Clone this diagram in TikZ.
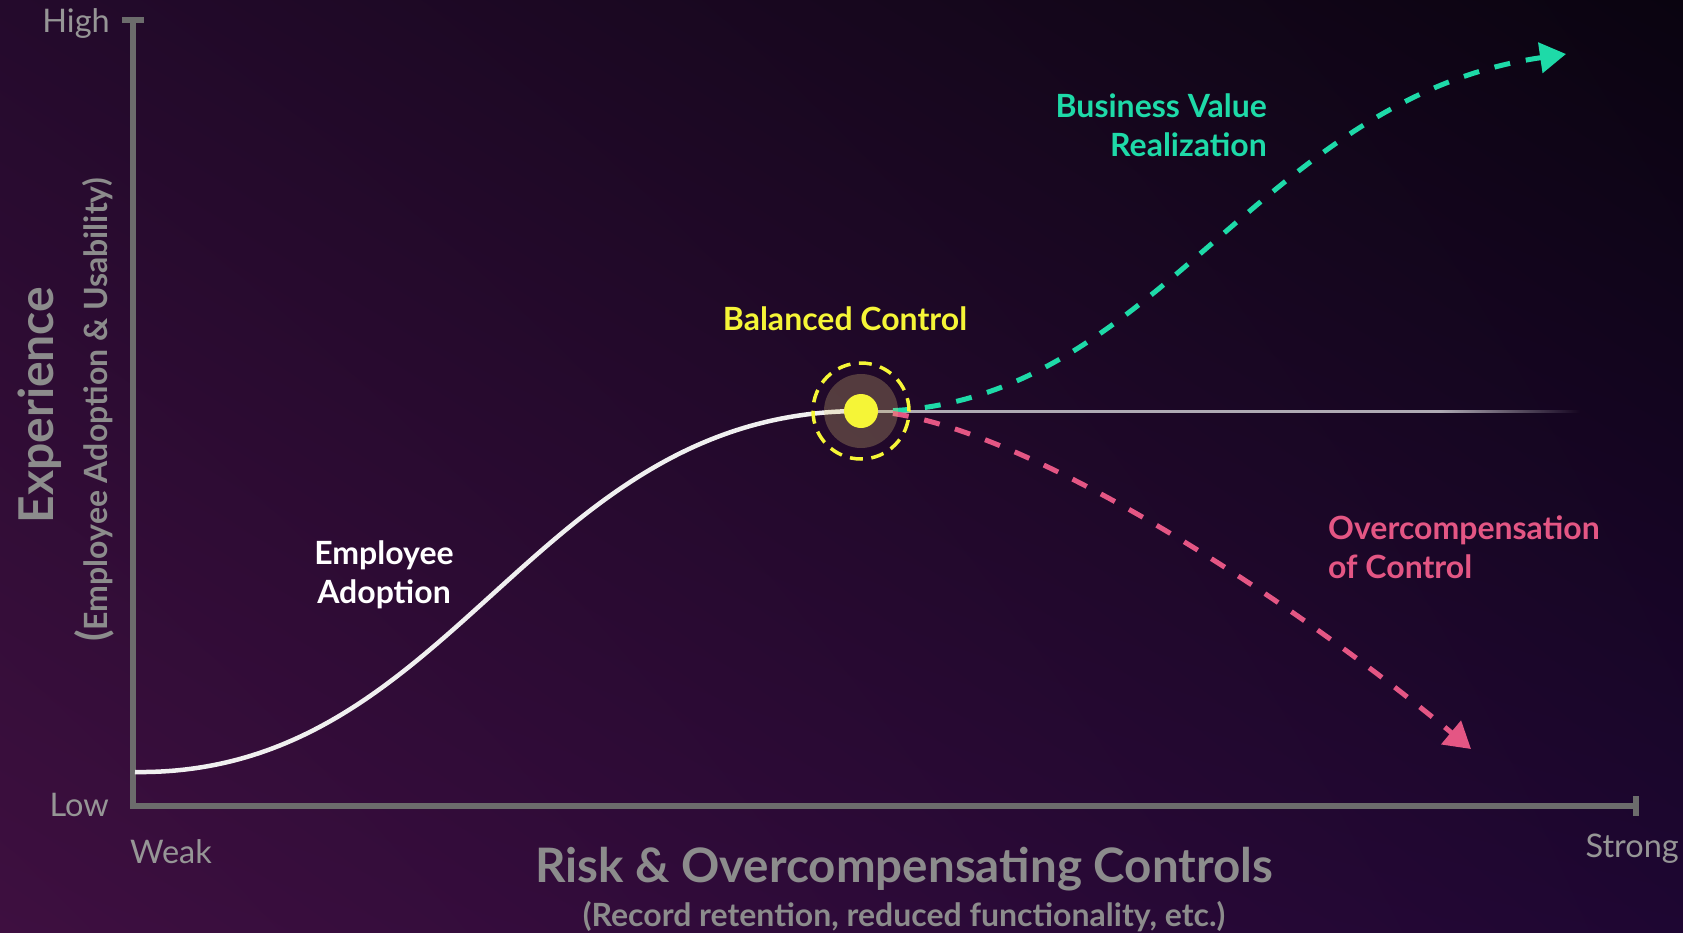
\documentclass[tikz,border=0pt]{standalone}
\usepackage{fontspec}
\setmainfont{Lato}
\usetikzlibrary{arrows.meta,fadings,shadings}

\definecolor{bgul}{RGB}{36,10,44}
\definecolor{bgll}{RGB}{62,15,64}
\definecolor{bgur}{RGB}{10,4,16}
\definecolor{bglr}{RGB}{30,6,50}
\definecolor{axisgray}{RGB}{108,108,108}
\definecolor{labelgray}{RGB}{150,150,150}
\definecolor{titlegray}{RGB}{140,140,140}
\definecolor{valuegreen}{RGB}{30,218,168}
\definecolor{overpink}{RGB}{228,86,132}
\definecolor{balyellow}{RGB}{245,245,55}
\definecolor{halotone}{RGB}{225,200,120}
\definecolor{flatgray}{RGB}{175,170,180}

\tikzfading[name=fadeout, left color=transparent!0, right color=transparent!100]

\tikzset{
  axisline/.style={draw=axisgray, line width=6pt},
  ticklabel/.style={inner sep=0pt, text=labelgray, font=\fontsize{32.5}{38}\selectfont},
  axistitle/.style={inner sep=0pt, text=titlegray, font=\bfseries\fontsize{47.5}{54}\selectfont},
  axisnote/.style={inner sep=0pt, text=titlegray, font=\bfseries\fontsize{32}{38}\selectfont},
  curvelabel/.style={inner sep=0pt, font=\bfseries\fontsize{32}{38.5}\selectfont},
  adoption/.style={draw=white!88!gray, line width=4.5pt},
  dashpath/.style={line width=5pt, dash pattern=on 16pt off 16pt, -{Triangle[length=26pt, width=30pt]}},
  baldot/.style={circle, fill=balyellow, inner sep=0pt, minimum size=34pt},
}

\begin{document}
\begin{tikzpicture}[x=1pt, y=-1pt]
% background
\shade[upper left=bgul, upper right=bgur, lower left=bgll, lower right=bglr] (0,0) rectangle (1683,932);
\useasboundingbox (0,0) rectangle (1683,932);

% axes
\coordinate (origin) at (133,806);
\coordinate (ytop) at (133,20);
\coordinate (xend) at (1636,806);
\draw[axisline] (ytop) -- (origin) -- (xend);
\draw[axisline] ([xshift=-11pt]ytop) -- ([xshift=11pt]ytop);
\draw[axisline] ([yshift=-10pt]xend) -- ([yshift=10pt]xend);

% axis labels
\node[ticklabel, anchor=base east] (high) at (110,32) {High};
\node[ticklabel, anchor=base east] (low) at (109,816) {Low};
\node[ticklabel, anchor=base west] (weak) at (130,863) {Weak};
\node[ticklabel, anchor=base east] (strong) at (1679,857) {Strong};

\node[axistitle, rotate=90, anchor=base, font=\bfseries\fontsize{48}{56}\selectfont] (ytitle) at (53,405) {Experience};
\node[axisnote, rotate=90, anchor=base] (ynote) at (107,410) {{\fontsize{42}{42}\selectfont(}Employee Adoption \& Usability)};
\node[axistitle, anchor=base] (xtitle) at (904,882) {Risk \& Overcompensating Controls};
\node[axisnote, anchor=base] (xnote) at (904,926) {(Record retention, reduced functionality, etc.)};

% curves
\coordinate (lowstart) at (135,772);
\coordinate (balpt) at (861,411);
\coordinate (flatend) at (1440,411);
\coordinate (valtip) at (1566,54);
\coordinate (overtip) at (1471,749);

\draw[adoption] (lowstart) .. controls (455,776) and (530,411) .. (balpt);
\draw[draw=flatgray, line width=3pt] (balpt) -- (flatend);
\fill[flatgray, path fading=fadeout] (1440,409.5) rectangle (1580,412.5);
\draw[dashpath, draw=valuegreen] (balpt) .. controls (1150,420) and (1250,100) .. (valtip);
\draw[dashpath, draw=overpink] (balpt) .. controls (1000,410) and (1280,590) .. (overtip);

% balanced point
\fill[halotone, fill opacity=0.27] (balpt) circle[radius=37pt];
\node[baldot] (bal) at (balpt) {};
\draw[balyellow, line width=3.5pt, dash pattern=on 13pt off 8.5pt] (bal.center) circle[radius=48pt];

% curve labels
\node[curvelabel, text=balyellow, anchor=base] (ballabel) at (845,330) {Balanced Control};
\node[curvelabel, text=valuegreen, anchor=base east, align=right] (vallabel) at (1267,156) {Business Value\\Realization};
\node[curvelabel, text=overpink, anchor=base west, align=left] (overlabel) at (1328,578) {Overcompensation\\of Control};
\node[curvelabel, text=white, anchor=base, align=center] (adoptlabel) at (384,603) {Employee\\Adoption};
\end{tikzpicture}
\end{document}
